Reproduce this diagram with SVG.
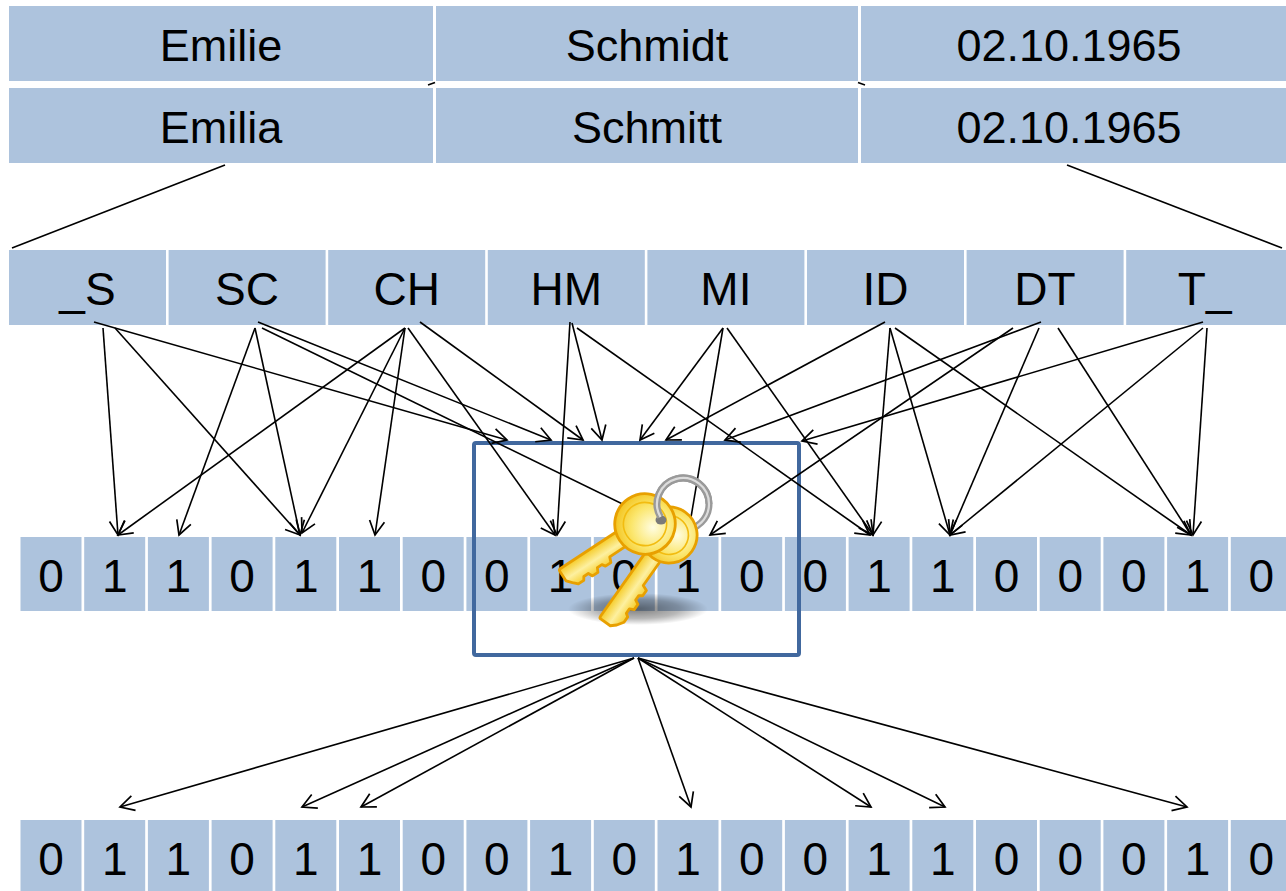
<svg xmlns="http://www.w3.org/2000/svg" width="1286" height="891" viewBox="0 0 1286 891">
<style>
.cell{fill:#ADC3DD}
.t{font-family:"Liberation Sans",Arial,sans-serif;fill:#000;text-anchor:middle}
.big{font-size:45px}
.bg{font-size:46px}
.bit{font-size:46px}
.con line{stroke:#000;stroke-width:1.6;fill:none}
.con .ar{marker-end:url(#ah)}
.kst{stroke:#E8A000;stroke-width:2.6;stroke-linejoin:round}
</style>
<defs>
<marker id="ah" markerUnits="userSpaceOnUse" markerWidth="18" markerHeight="18" viewBox="0 0 18 18" refX="16" refY="9" orient="auto">
<path d="M2,1.5 L16,9 L2,16.5" fill="none" stroke="#000" stroke-width="1.7"/>
</marker>
<radialGradient id="bow" cx="0.42" cy="0.38" r="0.65">
<stop offset="0" stop-color="#FFFDE2"/>
<stop offset="0.55" stop-color="#FBE66C"/>
<stop offset="1" stop-color="#F3C31C"/>
</radialGradient>
<linearGradient id="blade" x1="0" y1="0" x2="0" y2="1">
<stop offset="0" stop-color="#F6CE2C"/>
<stop offset="0.5" stop-color="#FDF0A0"/>
<stop offset="1" stop-color="#F5CB26"/>
</linearGradient>
<radialGradient id="sh">
<stop offset="0" stop-color="#000" stop-opacity="0.5"/>
<stop offset="0.6" stop-color="#000" stop-opacity="0.28"/>
<stop offset="1" stop-color="#000" stop-opacity="0"/>
</radialGradient>
</defs>
<rect width="1286" height="891" fill="#fff"/>

<g id="record1">
<rect class="cell" x="9" y="6" width="424" height="75"/>
<rect class="cell" x="436" y="6" width="422" height="75"/>
<rect class="cell" x="861" y="6" width="425" height="75"/>
<text class="t big" x="221" y="61">Emilie</text>
<text class="t big" x="647" y="61">Schmidt</text>
<text class="t big" x="1069" y="61">02.10.1965</text>
</g>
<g id="record2">
<rect class="cell" x="9" y="88" width="424" height="75"/>
<rect class="cell" x="436" y="88" width="422" height="75"/>
<rect class="cell" x="861" y="88" width="425" height="75"/>
<text class="t big" x="221" y="143">Emilia</text>
<text class="t big" x="647" y="143">Schmitt</text>
<text class="t big" x="1069" y="143">02.10.1965</text>
</g>

<g id="bigrams">
<rect class="cell" x="9" y="250" width="157" height="75"/>
<rect class="cell" x="168.6" y="250" width="157" height="75"/>
<rect class="cell" x="328.2" y="250" width="157" height="75"/>
<rect class="cell" x="487.8" y="250" width="157" height="75"/>
<rect class="cell" x="647.4" y="250" width="157" height="75"/>
<rect class="cell" x="807" y="250" width="157" height="75"/>
<rect class="cell" x="966.6" y="250" width="157" height="75"/>
<rect class="cell" x="1126.2" y="250" width="160" height="75"/>
<text class="t bg" x="87.5" y="305">_S</text>
<text class="t bg" x="247" y="305">SC</text>
<text class="t bg" x="406.7" y="305">CH</text>
<text class="t bg" x="566.3" y="305">HM</text>
<text class="t bg" x="725.9" y="305">MI</text>
<text class="t bg" x="885.5" y="305">ID</text>
<text class="t bg" x="1045" y="305">DT</text>
<text class="t bg" x="1204.7" y="305">T_</text>
</g>

<g id="bloom1">
<rect class="cell" x="20.5" y="537" width="61" height="74"/>
<rect class="cell" x="84.2" y="537" width="61" height="74"/>
<rect class="cell" x="147.9" y="537" width="61" height="74"/>
<rect class="cell" x="211.6" y="537" width="61" height="74"/>
<rect class="cell" x="275.3" y="537" width="61" height="74"/>
<rect class="cell" x="339" y="537" width="61" height="74"/>
<rect class="cell" x="402.7" y="537" width="61" height="74"/>
<rect class="cell" x="466.4" y="537" width="61" height="74"/>
<rect class="cell" x="530.1" y="537" width="61" height="74"/>
<rect class="cell" x="593.8" y="537" width="61" height="74"/>
<rect class="cell" x="657.5" y="537" width="61" height="74"/>
<rect class="cell" x="721.2" y="537" width="61" height="74"/>
<rect class="cell" x="784.9" y="537" width="61" height="74"/>
<rect class="cell" x="848.6" y="537" width="61" height="74"/>
<rect class="cell" x="912.3" y="537" width="61" height="74"/>
<rect class="cell" x="976" y="537" width="61" height="74"/>
<rect class="cell" x="1039.7" y="537" width="61" height="74"/>
<rect class="cell" x="1103.4" y="537" width="61" height="74"/>
<rect class="cell" x="1167.1" y="537" width="61" height="74"/>
<rect class="cell" x="1230.8" y="537" width="61" height="74"/>
<text class="t bit" x="51" y="592">0</text>
<text class="t bit" x="114.7" y="592">1</text>
<text class="t bit" x="178.4" y="592">1</text>
<text class="t bit" x="242.1" y="592">0</text>
<text class="t bit" x="305.8" y="592">1</text>
<text class="t bit" x="369.5" y="592">1</text>
<text class="t bit" x="433.2" y="592">0</text>
<text class="t bit" x="496.9" y="592">0</text>
<text class="t bit" x="560.6" y="592">1</text>
<text class="t bit" x="624.3" y="592">0</text>
<text class="t bit" x="688" y="592">1</text>
<text class="t bit" x="751.7" y="592">0</text>
<text class="t bit" x="815.4" y="592">0</text>
<text class="t bit" x="879.1" y="592">1</text>
<text class="t bit" x="942.8" y="592">1</text>
<text class="t bit" x="1006.5" y="592">0</text>
<text class="t bit" x="1070.2" y="592">0</text>
<text class="t bit" x="1133.9" y="592">0</text>
<text class="t bit" x="1197.6" y="592">1</text>
<text class="t bit" x="1261.3" y="592">0</text>
</g>

<g id="bloom2">
<rect class="cell" x="20.5" y="820" width="61" height="71"/>
<rect class="cell" x="84.2" y="820" width="61" height="71"/>
<rect class="cell" x="147.9" y="820" width="61" height="71"/>
<rect class="cell" x="211.6" y="820" width="61" height="71"/>
<rect class="cell" x="275.3" y="820" width="61" height="71"/>
<rect class="cell" x="339" y="820" width="61" height="71"/>
<rect class="cell" x="402.7" y="820" width="61" height="71"/>
<rect class="cell" x="466.4" y="820" width="61" height="71"/>
<rect class="cell" x="530.1" y="820" width="61" height="71"/>
<rect class="cell" x="593.8" y="820" width="61" height="71"/>
<rect class="cell" x="657.5" y="820" width="61" height="71"/>
<rect class="cell" x="721.2" y="820" width="61" height="71"/>
<rect class="cell" x="784.9" y="820" width="61" height="71"/>
<rect class="cell" x="848.6" y="820" width="61" height="71"/>
<rect class="cell" x="912.3" y="820" width="61" height="71"/>
<rect class="cell" x="976" y="820" width="61" height="71"/>
<rect class="cell" x="1039.7" y="820" width="61" height="71"/>
<rect class="cell" x="1103.4" y="820" width="61" height="71"/>
<rect class="cell" x="1167.1" y="820" width="61" height="71"/>
<rect class="cell" x="1230.8" y="820" width="61" height="71"/>
<text class="t bit" x="51" y="875">0</text>
<text class="t bit" x="114.7" y="875">1</text>
<text class="t bit" x="178.4" y="875">1</text>
<text class="t bit" x="242.1" y="875">0</text>
<text class="t bit" x="305.8" y="875">1</text>
<text class="t bit" x="369.5" y="875">1</text>
<text class="t bit" x="433.2" y="875">0</text>
<text class="t bit" x="496.9" y="875">0</text>
<text class="t bit" x="560.6" y="875">1</text>
<text class="t bit" x="624.3" y="875">0</text>
<text class="t bit" x="688" y="875">1</text>
<text class="t bit" x="751.7" y="875">0</text>
<text class="t bit" x="815.4" y="875">0</text>
<text class="t bit" x="879.1" y="875">1</text>
<text class="t bit" x="942.8" y="875">1</text>
<text class="t bit" x="1006.5" y="875">0</text>
<text class="t bit" x="1070.2" y="875">0</text>
<text class="t bit" x="1133.9" y="875">0</text>
<text class="t bit" x="1197.6" y="875">1</text>
<text class="t bit" x="1261.3" y="875">0</text>
</g>

<g id="keybox">
<rect x="474" y="443" width="325" height="212" rx="2" fill="none" stroke="#41689E" stroke-width="4"/>
</g>

<g id="connectors" class="con">
<line x1="225" y1="165" x2="12" y2="248"/>
<line x1="1067" y1="165" x2="1282" y2="248"/>
<line x1="428" y1="85" x2="435" y2="82.5"/>
<line x1="858" y1="82.5" x2="865" y2="85"/>
<!-- _S -->
<line class="ar" x1="103" y1="328" x2="118" y2="535"/>
<line class="ar" x1="115" y1="328" x2="300" y2="535"/>
<line class="ar" x1="94" y1="322" x2="507" y2="440"/>
<!-- SC -->
<line class="ar" x1="255" y1="328" x2="179" y2="535"/>
<line class="ar" x1="255" y1="328" x2="300" y2="535"/>
<line class="ar" x1="258" y1="322" x2="551" y2="440"/>
<line class="ar" x1="262" y1="328" x2="686" y2="535"/>
<!-- CH -->
<line class="ar" x1="405" y1="328" x2="118" y2="535"/>
<line class="ar" x1="405" y1="328" x2="302" y2="533"/>
<line class="ar" x1="405" y1="328" x2="375" y2="535"/>
<line class="ar" x1="408" y1="328" x2="555" y2="535"/>
<line class="ar" x1="420" y1="322" x2="583" y2="440"/>
<!-- HM -->
<line class="ar" x1="570" y1="322" x2="557" y2="535"/>
<line class="ar" x1="572" y1="323" x2="602" y2="440"/>
<line class="ar" x1="577" y1="328" x2="870" y2="535"/>
<!-- MI -->
<line class="ar" x1="723" y1="328" x2="640" y2="440"/>
<line class="ar" x1="723" y1="328" x2="688" y2="535"/>
<line class="ar" x1="727" y1="328" x2="873" y2="535"/>
<!-- ID -->
<line class="ar" x1="885" y1="322" x2="666" y2="440"/>
<line class="ar" x1="890" y1="328" x2="873" y2="535"/>
<line class="ar" x1="890" y1="328" x2="950" y2="535"/>
<line class="ar" x1="895" y1="328" x2="1191" y2="535"/>
<!-- DT -->
<line class="ar" x1="1041" y1="322" x2="725" y2="440"/>
<line class="ar" x1="1013" y1="328" x2="710" y2="535"/>
<line class="ar" x1="1039" y1="328" x2="950" y2="535"/>
<line class="ar" x1="1058" y1="328" x2="1191" y2="535"/>
<!-- T_ -->
<line class="ar" x1="1203" y1="322" x2="802" y2="441"/>
<line class="ar" x1="1203" y1="328" x2="950" y2="535"/>
<line class="ar" x1="1207" y1="328" x2="1193" y2="535"/>
<!-- key box to output -->
<line class="ar" x1="634" y1="658" x2="120" y2="807"/>
<line class="ar" x1="634" y1="658" x2="302" y2="807"/>
<line class="ar" x1="634" y1="658" x2="361" y2="807"/>
<line class="ar" x1="638" y1="658" x2="691" y2="807"/>
<line class="ar" x1="638" y1="658" x2="871" y2="807"/>
<line class="ar" x1="638" y1="658" x2="945" y2="807"/>
<line class="ar" x1="638" y1="658" x2="1187" y2="807"/>
</g>

<g id="key">
<ellipse cx="638" cy="609" rx="70" ry="16" fill="url(#sh)"/>
<circle cx="683" cy="504" r="26" fill="none" stroke="#9A9A9A" stroke-width="7"/>
<circle cx="683" cy="504" r="26" fill="none" stroke="#DCDCDC" stroke-width="2.2"/>
<g transform="translate(669,535) rotate(125.2) scale(1.08)">
<path class="kst" fill="url(#blade)" d="M18,-7.5 L52,-7.5 L54,-12.5 L60,-12.5 L62,-9.5 L67,-9.5 L69,-13.5 L75,-13.5 L77,-9.5 L82,-9.5 L84,-12.5 L90,-12.5 L96,-8.5 L100,-4 L100,6.5 Q100,8.5 98,8.5 L18,8.5 Z"/>
<circle class="kst" r="26" fill="url(#bow)"/>
<circle r="18" fill="none" stroke="#F2BC10" stroke-width="1.5"/>
</g>
<g transform="translate(645,524) rotate(146.7) scale(1.08)">
<path class="kst" fill="url(#blade)" d="M18,-7.5 L44,-7.5 L46,-12.5 L52,-12.5 L54,-9.5 L59,-9.5 L61,-13.5 L67,-13.5 L69,-9.5 L74,-9.5 L76,-12.5 L82,-12.5 L86,-8.5 L90,-4 L90,6.5 Q90,8.5 88,8.5 L18,8.5 Z"/>
<circle class="kst" r="28" fill="url(#bow)"/>
<circle r="20" fill="none" stroke="#F2BC10" stroke-width="1.5"/>
</g>
<ellipse cx="661" cy="520" rx="5.5" ry="4.5" fill="#7A7A7A"/>
<path d="M660.5,517 A26,26 0 1 1 709,504" fill="none" stroke="#9A9A9A" stroke-width="7"/>
<path d="M660.5,517 A26,26 0 1 1 709,504" fill="none" stroke="#DCDCDC" stroke-width="2.2"/>
</g>
</svg>
